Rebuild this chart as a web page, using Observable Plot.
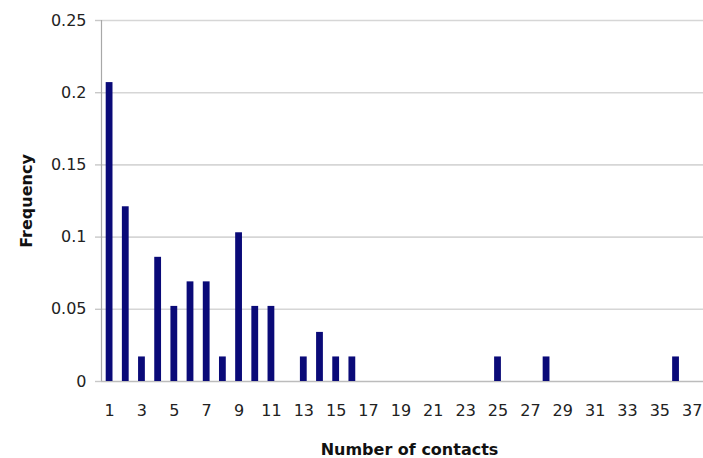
<!DOCTYPE html>
<html>
<head>
<meta charset="utf-8">
<script src="https://cdn.jsdelivr.net/npm/d3@7"></script>
<script src="https://cdn.jsdelivr.net/npm/@observablehq/plot@0.6"></script>
<style>
  html, body { margin: 0; padding: 0; background: #fff; overflow: hidden; }
  #chart { width: 703px; height: 458px; overflow: hidden; }
</style>
</head>
<body>
<div id="chart"></div>
<script>
// Number of contacts (categories) and observed frequency
const contacts = [1,2,3,4,5,6,7,8,9,10,11,12,13,14,15,16,17,18,19,20,21,22,23,24,25,26,27,28,29,30,31,32,33,34,35,36,37];
const frequency = [0.207,0.121,0.017,0.086,0.052,0.069,0.069,0.017,0.103,0.052,0.052,0,0.017,0.034,0.017,0.017,0,0,0,0,0,0,0,0,0.017,0,0,0.017,0,0,0,0,0,0,0,0.017,0];
const xDomain = [...contacts, 38];
const xTicks = [1,3,5,7,9,11,13,15,17,19,21,23,25,27,29,31,33,35,37];
const yTicks = [0, 0.05, 0.1, 0.15, 0.2, 0.25];
const yTickLabels = ["0", "0.05", "0.1", "0.15", "0.2", "0.25"];
const xTitle = "Number of contacts";
const yTitle = "Frequency";

const data = contacts.map((c, i) => ({contacts: c, frequency: frequency[i]}));

const chart = Plot.plot({
  width: 703,
  height: 458,
  marginLeft: 101,
  marginRight: 0,
  marginTop: 20,
  marginBottom: 77,
  style: {fontFamily: "DejaVu Sans", background: "#fff", overflow: "hidden"},
  x: {type: "band", domain: xDomain, range: [101, 716], round: false, paddingInner: 0.58, paddingOuter: 0.29},
  y: {domain: [0, 0.25]},
  marks: [
    Plot.gridY(yTicks.slice(1), {stroke: "#d6d6d6", strokeOpacity: 1, strokeWidth: 1.6}),
    Plot.axisY(yTicks, {
      tickSize: 6, tickPadding: 9, stroke: "#c8c8c8", strokeWidth: 1.4,
      fill: "#222", fontSize: 16, label: null,
      tickFormat: (d) => yTickLabels[yTicks.indexOf(d)]
    }),
    Plot.ruleY([0], {stroke: "#bcbcbc", strokeWidth: 1.6}),
    Plot.ruleX([xDomain[0]], {x: (d) => d, stroke: "#a8a8a8", strokeWidth: 1.2, dx: -8.1}),
    Plot.barY(data, {x: "contacts", y: "frequency", fill: "#0a0a78"}),
    Plot.axisX(xTicks, {tickSize: 0, tickPadding: 23, fontSize: 16, fill: "#222", label: null}),
    Plot.text([xTitle], {frameAnchor: "bottom", dx: 7, dy: 73, fontSize: 16, fontWeight: "bold", fill: "#111"}),
    Plot.text([yTitle], {frameAnchor: "left", textAnchor: "middle", rotate: -90, dx: -75, fontSize: 16, fontWeight: "bold", fill: "#111"})
  ]
});
chart.style.maxWidth = "none";
document.getElementById("chart").appendChild(chart);
</script>
</body>
</html>
